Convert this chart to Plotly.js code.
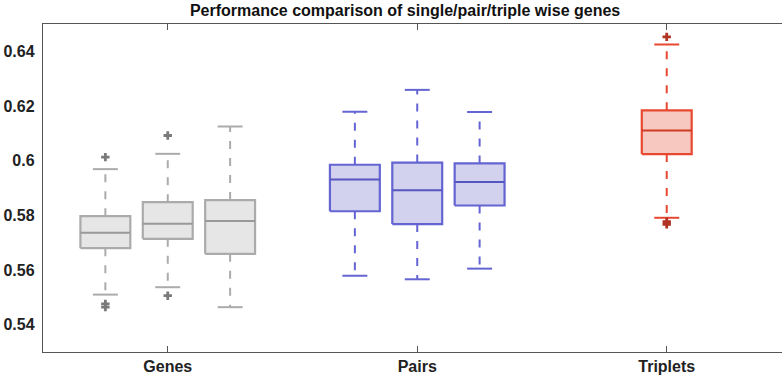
<!DOCTYPE html>
<html>
<head>
<meta charset="utf-8">
<script src="https://cdn.plot.ly/plotly-3.0.1.min.js"></script>
<style>
  html, body { margin: 0; padding: 0; background: #fff; overflow: hidden; }
  #chart { width: 782px; height: 380px; }
</style>
</head>
<body>
<div id="chart"></div>
<script>
// Category axis labels
const groupLabels = ['Genes', 'Pairs', 'Triplets'];

// One entry per box: which category it belongs to
const boxGroup = [0, 0, 0, 1, 1, 1, 2];

// Box statistics
const lowerWhisker = [0.5510, 0.5537, 0.5464, 0.5579, 0.5566, 0.5605, 0.5791];
const q1Values     = [0.5680, 0.5714, 0.5659, 0.5815, 0.5768, 0.5836, 0.6024];
const medianValues = [0.5736, 0.5769, 0.5779, 0.5931, 0.5892, 0.5922, 0.6110];
const q3Values     = [0.5797, 0.5848, 0.5856, 0.5985, 0.5993, 0.5990, 0.6184];
const upperWhisker = [0.5969, 0.6025, 0.6125, 0.6179, 0.6259, 0.6178, 0.6425];

// Outlying points per box
const outlierValues = [
  [0.6013, 0.5476, 0.5464],
  [0.6092, 0.5506],
  [],
  [],
  [],
  [],
  [0.6453, 0.5777, 0.5767]
];

// Y axis tick labels
const yTickValues = [0.54, 0.56, 0.58, 0.60, 0.62, 0.64];
const yTickLabels = ['0.54', '0.56', '0.58', '0.6', '0.62', '0.64'];

// Styling per category
const palette = [
  { line: '#ababab', fill: '#e6e6e6', median: '#999999', outlier: '#7a7a7a' },
  { line: '#6464d2', fill: '#d2d2ee', median: '#5656c0', outlier: '#4a4aa8' },
  { line: '#e8482f', fill: '#f7c8c0', median: '#cf3c26', outlier: '#b13324' }
];

const boxHalf = 0.1;   // half box width in axis units
const capHalf = 0.05;  // half whisker-cap width
const spread = 0.25;   // spacing of boxes within a category

// place boxes around their category centre
const countInGroup = groupLabels.map((_, g) => boxGroup.filter(v => v === g).length);
const seen = groupLabels.map(() => 0);
const xCenter = boxGroup.map(g => {
  const i = seen[g]++;
  return (g + 1) + (i - (countInGroup[g] - 1) / 2) * spread;
});

const traces = [];

// dashed whiskers and caps (behind the boxes)
boxGroup.forEach((g, i) => {
  const c = palette[g];
  const x = xCenter[i];
  traces.push({
    type: 'scatter', mode: 'lines', hoverinfo: 'skip', showlegend: false,
    x: [x, x, null, x, x],
    y: [q3Values[i], upperWhisker[i], null, q1Values[i], lowerWhisker[i]],
    line: { color: c.line, width: 2, dash: '8px,9px' }
  });
  traces.push({
    type: 'scatter', mode: 'lines', hoverinfo: 'skip', showlegend: false,
    x: [x - capHalf, x + capHalf, null, x - capHalf, x + capHalf],
    y: [upperWhisker[i], upperWhisker[i], null, lowerWhisker[i], lowerWhisker[i]],
    line: { color: c.line, width: 2 }
  });
});

// boxes and medians
boxGroup.forEach((g, i) => {
  const c = palette[g];
  const x = xCenter[i];
  traces.push({
    type: 'scatter', mode: 'lines', hoverinfo: 'skip', showlegend: false,
    x: [x - boxHalf, x + boxHalf, x + boxHalf, x - boxHalf, x - boxHalf],
    y: [q1Values[i], q1Values[i], q3Values[i], q3Values[i], q1Values[i]],
    fill: 'toself', fillcolor: c.fill,
    line: { color: c.line, width: 2.2 }
  });
  traces.push({
    type: 'scatter', mode: 'lines', hoverinfo: 'skip', showlegend: false,
    x: [x - boxHalf, x + boxHalf],
    y: [medianValues[i], medianValues[i]],
    line: { color: c.median, width: 2 }
  });
});

// outliers
boxGroup.forEach((g, i) => {
  if (!outlierValues[i].length) return;
  traces.push({
    type: 'scatter', mode: 'markers', hoverinfo: 'skip', showlegend: false,
    x: outlierValues[i].map(() => xCenter[i]),
    y: outlierValues[i],
    marker: { symbol: 'cross', size: 7, color: palette[g].outlier }
  });
});

const layout = {
  width: 782, height: 380,
  margin: { l: 43, r: 0, t: 24, b: 28 },
  paper_bgcolor: '#ffffff', plot_bgcolor: '#ffffff',
  showlegend: false,
  hovermode: false,
  font: { family: 'Liberation Sans, Arial, sans-serif', color: '#222222' },
  title: {
    text: '<b>Performance comparison of single/pair/triple wise genes</b>',
    font: { size: 16, color: '#111111' },
    x: 0.518, xanchor: 'center', y: 0.988, yanchor: 'top'
  },
  xaxis: {
    range: [0.5, 3.462],
    tickvals: groupLabels.map((_, g) => g + 1),
    ticktext: groupLabels.map(s => '<b>' + s + '</b>'),
    tickfont: { size: 16, color: '#222222' },
    ticks: 'inside', ticklen: 6, tickcolor: '#555555', tickwidth: 1,
    showline: true, linecolor: '#555555', linewidth: 1.2,
    mirror: 'ticks',
    showgrid: false, zeroline: false, fixedrange: true
  },
  yaxis: {
    range: [0.53, 0.65],
    tickvals: yTickValues,
    ticktext: yTickLabels.map(s => '<b>' + s + '</b>'),
    tickfont: { size: 16, color: '#222222' },
    ticks: '', ticklabelstandoff: 4,
    showline: true, linecolor: '#555555', linewidth: 1.2,
    showgrid: false, zeroline: false, fixedrange: true
  }
};

Plotly.newPlot('chart', traces, layout, { displayModeBar: false, staticPlot: true });
</script>
</body>
</html>
